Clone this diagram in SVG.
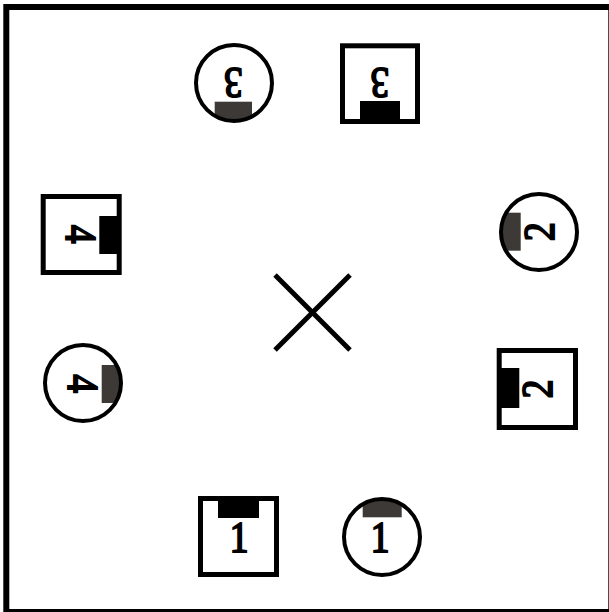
<svg xmlns="http://www.w3.org/2000/svg" width="609" height="612" viewBox="0 0 609 612">
<style>
.frame{fill:#fff;stroke:#000;stroke-width:6}
.sq{fill:none;stroke:#000;stroke-width:5}
.ci{fill:none;stroke:#000;stroke-width:4}
.bar{fill:#000}
.gbar{fill:#3d3936}
.num{font-family:"Liberation Serif",serif;font-size:44px;text-anchor:middle;fill:#000;stroke:#000;stroke-width:2}
.x{stroke:#000;stroke-width:5;fill:none}
</style>
<defs>
<clipPath id="c3"><circle cx="234" cy="83" r="38"/></clipPath>
<clipPath id="c2"><circle cx="539" cy="232" r="38"/></clipPath>
<clipPath id="c4"><circle cx="83" cy="383" r="38"/></clipPath>
<clipPath id="c1"><circle cx="382" cy="537" r="38"/></clipPath>
</defs>
<rect class="frame" x="6.3" y="7" width="605" height="605"/>
<g id="connectors">
<line class="x" x1="275" y1="275" x2="350" y2="350"/>
<line class="x" x1="350" y1="275" x2="275" y2="350"/>
</g>
<g id="circle3">
<rect class="gbar" x="214.7" y="101.7" width="37.3" height="30" clip-path="url(#c3)"/>
<circle class="ci" cx="234" cy="83" r="38"/>
<text class="num" transform="translate(233.3,83.3) rotate(180) scale(0.85,1)" y="15">3</text>
</g>
<g id="square3">
<rect class="bar" x="360" y="101" width="40" height="20"/>
<rect class="sq" x="342.5" y="45.8" width="75" height="75.7"/>
<text class="num" transform="translate(380,83.3) rotate(180) scale(0.85,1)" y="15">3</text>
</g>
<g id="square4">
<rect class="bar" x="99.3" y="216" width="20" height="38"/>
<rect class="sq" x="43.2" y="196.5" width="76" height="76"/>
<text class="num" transform="translate(81.2,234) rotate(90) scale(0.85,1)" y="15">4</text>
</g>
<g id="circle4">
<rect class="gbar" x="101.7" y="365" width="30" height="38" clip-path="url(#c4)"/>
<circle class="ci" cx="83" cy="383" r="38"/>
<text class="num" transform="translate(83.3,383.5) rotate(90) scale(0.85,1)" y="15">4</text>
</g>
<g id="circle2">
<rect class="gbar" x="495" y="212.7" width="25.7" height="38" clip-path="url(#c2)"/>
<circle class="ci" cx="539" cy="232" r="38"/>
<text class="num" transform="translate(539,231.7) rotate(-90) scale(0.85,1)" y="15">2</text>
</g>
<g id="square2">
<rect class="bar" x="499" y="368" width="20.3" height="40"/>
<rect class="sq" x="499.2" y="350.5" width="76.3" height="77"/>
<text class="num" transform="translate(536.7,389) rotate(-90) scale(0.85,1)" y="15">2</text>
</g>
<g id="square1">
<rect class="bar" x="218" y="500" width="41" height="18"/>
<rect class="sq" x="200.5" y="498.5" width="76" height="76"/>
<text class="num" transform="translate(239,536.7) scale(0.85,1)" y="15">1</text>
</g>
<g id="circle1">
<rect class="gbar" x="362.7" y="495" width="39" height="22.3" clip-path="url(#c1)"/>
<circle class="ci" cx="382" cy="537" r="38"/>
<text class="num" transform="translate(380,536.7) scale(0.85,1)" y="15">1</text>
</g>
</svg>
